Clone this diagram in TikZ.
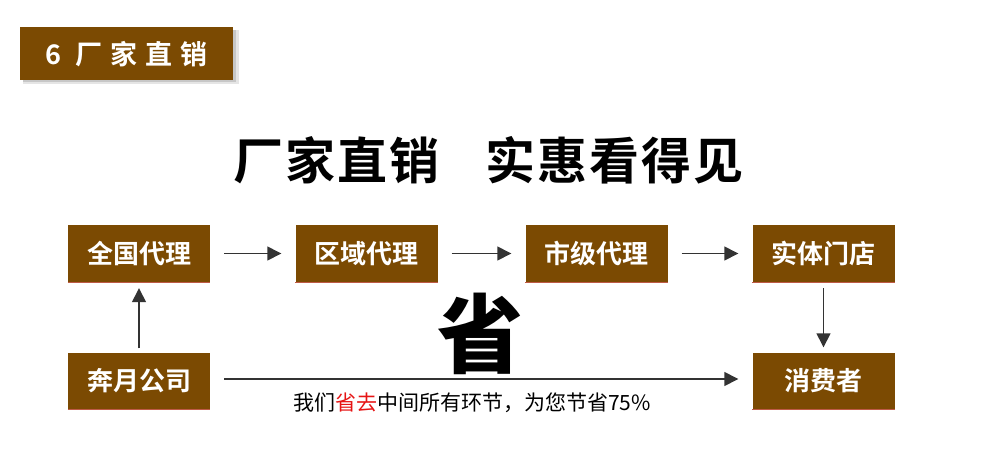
\documentclass[tikz,border=0pt]{standalone}
\usepackage{fontspec}
\newfontfamily\cjk{Noto Sans CJK SC}[BoldFont={Noto Sans CJK SC Bold}]
\newfontfamily\cjkblack{Noto Sans CJK SC Black}
\usetikzlibrary{arrows.meta}
\definecolor{brownbox}{RGB}{123,74,2}
\definecolor{arrowgray}{RGB}{51,51,51}
\definecolor{edgered}{RGB}{190,90,70}
\definecolor{subred}{RGB}{230,20,20}
\tikzset{
  flowbox/.style={fill=brownbox, minimum width=142pt, minimum height=57pt, inner sep=0pt,
    text=white, font=\cjk\bfseries\fontsize{26}{26}\selectfont},
  flowarrow/.style={draw=arrowgray, line width=1.4pt, -{Triangle[length=14pt,width=14pt]}},
}
\begin{document}
\begin{tikzpicture}[x=1pt,y=-1pt]
\useasboundingbox (0,0) rectangle (990,458);
\fill[white] (0,0) rectangle (990,458);
% header
\fill[black!10] (23,30) rectangle (239,84);
\fill[black!22] (23,30) rectangle (236,82);
\node[fill=brownbox, minimum width=213pt, minimum height=53pt, inner sep=0pt, anchor=north west,
  text=white, font=\cjk\bfseries\fontsize{27}{27}\selectfont] (hdr) at (20,27)
  {6\hspace{14pt}厂\hspace{8pt}家\hspace{8pt}直\hspace{8pt}销};
% title
\node[font=\cjk\bfseries\fontsize{50}{50}\selectfont] (title) at (488,160)
  {厂\hspace{2pt}家\hspace{2pt}直\hspace{2pt}销\hspace{46pt}实\hspace{2pt}惠\hspace{2pt}看\hspace{2pt}得\hspace{2pt}见};
% boxes
\node[flowbox] (qg) at (139,253.5) {全国代理};
\node[flowbox] (qy) at (366.5,253.5) {区域代理};
\node[flowbox] (sj) at (596.5,253.5) {市级代理};
\node[flowbox] (st) at (823.5,253.5) {实体门店};
\node[flowbox] (by) at (139,381) {奔月公司};
\node[flowbox] (xf) at (823.5,381) {消费者};
\foreach \n in {qg,qy,sj,st,by,xf}
  \draw[edgered, line width=0.8pt] (\n.south west) -- (\n.south east);
% arrows
\draw[flowarrow] ([xshift=14pt]qg.east) -- ([xshift=-14pt]qy.west);
\draw[flowarrow] ([xshift=14pt]qy.east) -- ([xshift=-14pt]sj.west);
\draw[flowarrow] ([xshift=14pt]sj.east) -- ([xshift=-14pt]st.west);
\draw[flowarrow] ([yshift=-6pt]st.south) -- ([yshift=5pt]xf.north);
\draw[flowarrow] ([yshift=4pt]by.north) -- ([yshift=-6pt]qg.south);
\draw[flowarrow] ([xshift=14pt,yshift=2pt]by.east) -- ([xshift=-14pt,yshift=2pt]xf.west);
% big char
\node[font=\cjkblack\fontsize{86}{86}\selectfont] (sheng) at (480,334) {省};
% subtext
\node[font=\cjk\fontsize{21}{21}\selectfont, text=black] (sub) at (472,403)
  {我们\textcolor{subred}{省去}中间所有环节，为您节省75\%};
\end{tikzpicture}
\end{document}
